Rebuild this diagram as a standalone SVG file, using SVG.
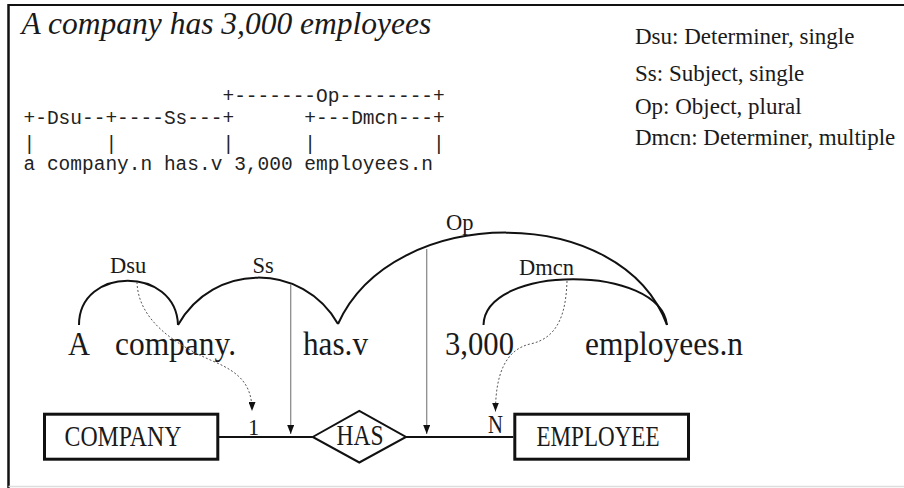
<svg xmlns="http://www.w3.org/2000/svg" width="904" height="488" viewBox="0 0 904 488">
  <defs>
    <style>
      .serif { font-family: "Liberation Serif", "Times New Roman", serif; fill: #1a1a1a; }
      .title { font-size: 31.5px; font-style: italic; }
      .legend { font-size: 23px; }
      .mono { font-family: "Liberation Mono", "Courier New", monospace; font-size: 19.5px; fill: #222; white-space: pre; }
      .word { font-size: 34.5px; }
      .lbl { font-size: 22.5px; }
      .ent { font-size: 29px; }
      .arc { fill: none; stroke: #111; stroke-width: 2; }
      .dot { fill: none; stroke: #555; stroke-width: 1; stroke-dasharray: 2 2; marker-end: url(#tri); }
      .ptr { fill: none; stroke: #8c8c8c; stroke-width: 1.3; marker-end: url(#tri); }
      .rel { fill: none; stroke: #111; stroke-width: 2; }
      .box { fill: #fff; stroke: #111; stroke-width: 3; }
      .dia { fill: #fff; stroke: #111; stroke-width: 2; }
    </style>
    <marker id="tri" viewBox="0 0 9 7" refX="9" refY="3.5" markerWidth="9" markerHeight="7" markerUnits="userSpaceOnUse" orient="auto">
      <path d="M0,0 L9,3.5 L0,7 z" fill="#111"/>
    </marker>
  </defs>

  <rect width="904" height="488" fill="#fff"/>

  <!-- frame: heavy top and left rules, faint bottom rule -->
  <g id="frame">
    <line x1="8.5" y1="5" x2="904" y2="5" stroke="#111" stroke-width="2"/>
    <line x1="8.5" y1="4" x2="8.5" y2="488" stroke="#111" stroke-width="2.5"/>
    <line x1="8.5" y1="486.5" x2="904" y2="486.5" stroke="#ddd" stroke-width="1.5"/>
  </g>

  <g id="title">
    <text class="serif title" x="21.5" y="34">A company has 3,000 employees</text>
  </g>

  <g id="legend" class="serif legend">
    <text x="635" y="44">Dsu: Determiner, single</text>
    <text x="635" y="81">Ss: Subject, single</text>
    <text x="635" y="114">Op: Object, plural</text>
    <text x="635" y="145">Dmcn: Determiner, multiple</text>
  </g>

  <!-- link grammar parse, text form -->
  <g id="parse-text" class="mono">
    <text xml:space="preserve" x="23.5" y="102">                 +-------Op--------+</text>
    <text xml:space="preserve" x="23.5" y="124">+-Dsu--+----Ss---+      +---Dmcn---+</text>
    <text xml:space="preserve" x="23.5" y="150">|      |         |      |          |</text>
    <text xml:space="preserve" x="23.5" y="170">a company.n has.v 3,000 employees.n</text>
  </g>

  <!-- sentence words -->
  <g id="w-a"><text class="serif word" x="68" y="355" textLength="22" lengthAdjust="spacingAndGlyphs">A</text></g>
  <g id="w-company"><text class="serif word" x="115" y="355" textLength="121" lengthAdjust="spacingAndGlyphs">company.</text></g>
  <g id="w-has"><text class="serif word" x="303" y="355" textLength="65" lengthAdjust="spacingAndGlyphs">has.v</text></g>
  <g id="w-3000"><text class="serif word" x="445" y="355" textLength="69" lengthAdjust="spacingAndGlyphs">3,000</text></g>
  <g id="w-employees"><text class="serif word" x="585" y="355" textLength="158" lengthAdjust="spacingAndGlyphs">employees.n</text></g>

  <!-- ER nodes -->
  <g id="e-company">
    <rect class="box" x="44.5" y="414.2" width="173.3" height="45"/>
    <text class="serif ent" x="64.5" y="446" textLength="117" lengthAdjust="spacingAndGlyphs">COMPANY</text>
  </g>
  <g id="r-has">
    <polygon class="dia" points="312.7,437 359.3,411 406,437 359.3,462.5"/>
    <text class="serif ent" x="336.5" y="445" textLength="47" lengthAdjust="spacingAndGlyphs">HAS</text>
  </g>
  <g id="e-employee">
    <rect class="box" x="514.8" y="414.2" width="173.7" height="45"/>
    <text class="serif ent" x="536.5" y="446" textLength="123" lengthAdjust="spacingAndGlyphs">EMPLOYEE</text>
  </g>

  <!-- links, relationship lines and mappings -->
  <g id="connectors">
    <path class="arc" d="M79,325 C79,266 176,266 178,325"/>
    <path class="arc" d="M178,325 C213,262 303,262 338,324"/>
    <path class="arc" d="M338,324 C393,202 622,202 667,325"/>
    <path class="arc" d="M483.5,325 C485,264 660,264 667,325"/>

    <text class="serif lbl" x="110" y="273">Dsu</text>
    <text class="serif lbl" x="252.5" y="273">Ss</text>
    <text class="serif lbl" x="446" y="230">Op</text>
    <text class="serif lbl" x="519" y="275">Dmcn</text>

    <line class="rel" x1="219" y1="437" x2="312.7" y2="437"/>
    <line class="rel" x1="406" y1="437" x2="513.3" y2="437"/>

    <line class="ptr" x1="290.7" y1="284" x2="290.7" y2="434"/>
    <line class="ptr" x1="426.7" y1="249" x2="426.7" y2="434"/>

    <path class="dot" d="M137,282 C138,320 175,345 215,362 C240,373 252,385 252,411"/>
    <path class="dot" d="M567,281 C566,310 560,338 530,344 C505,350 495.5,375 495.5,411.5"/>

    <text class="serif lbl" x="248" y="435">1</text>
    <text class="serif" x="488" y="433" font-size="25" textLength="15" lengthAdjust="spacingAndGlyphs">N</text>
  </g>
</svg>
